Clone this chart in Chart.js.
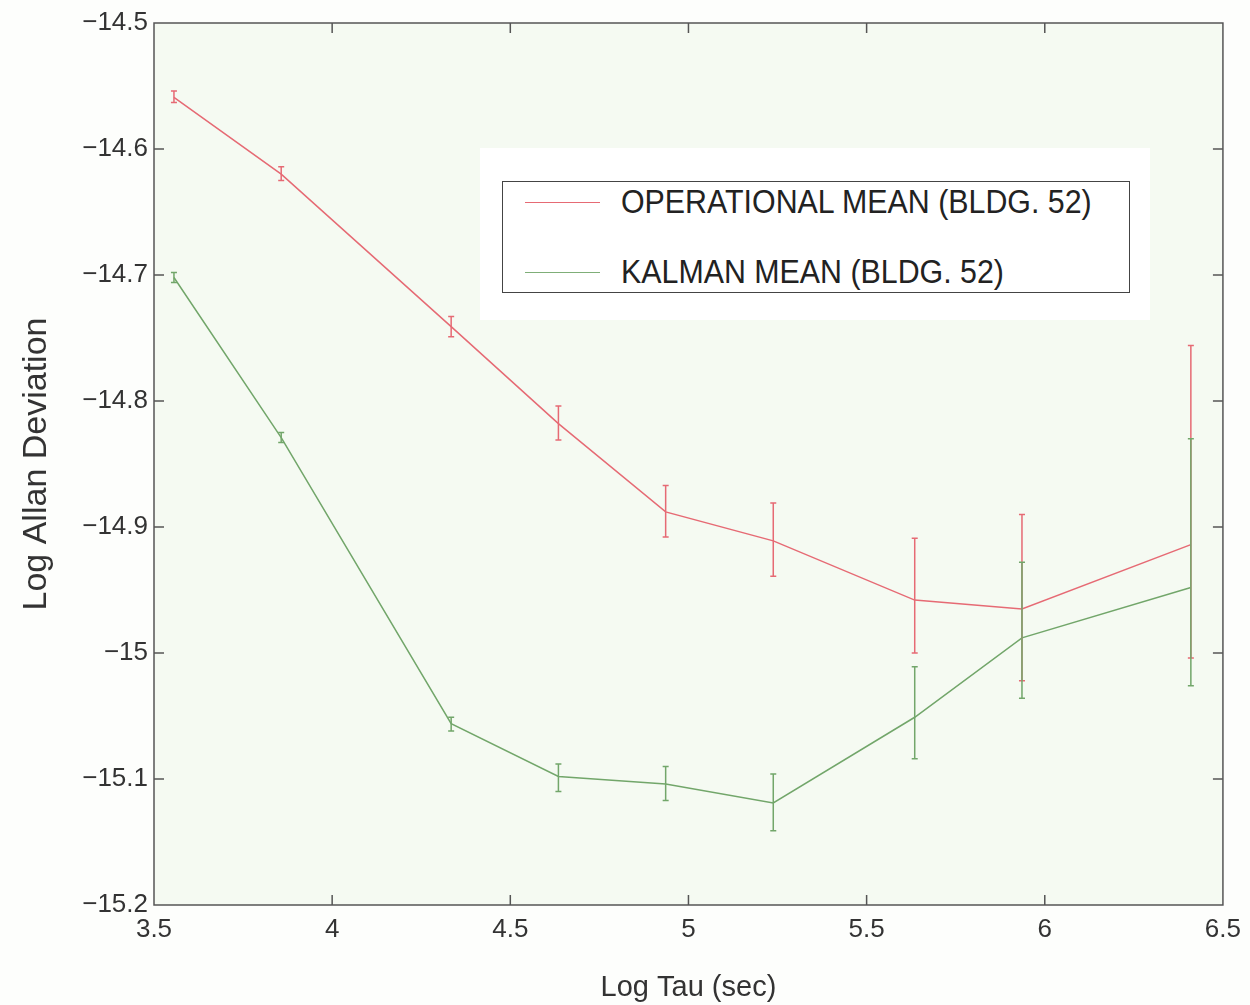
<!DOCTYPE html>
<html>
<head>
<meta charset="utf-8">
<script src="https://cdn.jsdelivr.net/npm/chart.js@4.4.1/dist/chart.umd.min.js"></script>
<style>
    body { margin: 0; background: #fdfefc; }
    #wrap { position: relative; width: 1250px; height: 1005px; }
    #legendBack {
        position: absolute; left: 480px; top: 148px; width: 670px; height: 172px;
        background: #ffffff;
    }
    #legendBox {
        position: absolute; left: 502px; top: 181px; width: 626px; height: 110px;
        border: 1.5px solid #444; background: #ffffff;
        font-family: "Liberation Sans", Arial, sans-serif; font-size: 33px; color: #222;
    }
    .row { position: absolute; left: 0; height: 38px; line-height: 38px; white-space: nowrap; }
    .row span.line { position: absolute; left: 22px; top: 19px; width: 75px; height: 0; border-top: 1.5px solid; }
    .row span.txt { position: absolute; left: 118px; top: 0; display: inline-block; transform: scaleX(0.92); transform-origin: left center; }
</style>
</head>
<body>
<div id="wrap">
    <canvas id="allanChart" width="1250" height="1005"></canvas>
    <div id="legendBack"></div>
    <div id="legendBox">
        <div class="row" style="top: 1px;"><span class="line" style="border-color:#e66a74;"></span><span class="txt">OPERATIONAL MEAN (BLDG. 52)</span></div>
        <div class="row" style="top: 71px;"><span class="line" style="border-color:#7fae78;"></span><span class="txt">KALMAN MEAN (BLDG. 52)</span></div>
    </div>
</div>
<script>
// log10 of averaging time (sec)
const logTau = [3.556, 3.857, 4.334, 4.635, 4.936, 5.238, 5.635, 5.936, 6.41];

// operational mean, log Allan deviation, error bar up / down lengths
const operationalMean = [-14.559, -14.620, -14.741, -14.818, -14.888, -14.911, -14.958, -14.965, -14.914];
const operationalUp = [0.005, 0.006, 0.008, 0.014, 0.021, 0.030, 0.049, 0.075, 0.158];
const operationalDown = [0.004, 0.005, 0.008, 0.013, 0.020, 0.028, 0.042, 0.057, 0.090];

// kalman mean
const kalmanMean = [-14.702, -14.829, -15.056, -15.098, -15.104, -15.119, -15.051, -14.988, -14.948];
const kalmanUp = [0.004, 0.004, 0.005, 0.010, 0.014, 0.023, 0.040, 0.060, 0.118];
const kalmanDown = [0.004, 0.004, 0.006, 0.012, 0.013, 0.022, 0.033, 0.048, 0.078];

const xTicks = [3.5, 4, 4.5, 5, 5.5, 6, 6.5];
const yTicks = [-14.5, -14.6, -14.7, -14.8, -14.9, -15, -15.1, -15.2];

const RED = '#e66a74';
const GREEN = '#72a66a';
const FONT = '"Liberation Sans", Arial, sans-serif';

function toPoints(xs, ys, ups, downs) {
    return xs.map((x, i) => ({ x: x, y: ys[i], up: ups[i], down: downs[i] }));
}

// Plot background
const plotBackground = {
    id: 'plotBackground',
    beforeDraw(chart) {
        const { ctx, chartArea: a } = chart;
        ctx.save();
        ctx.fillStyle = '#f5faf2';
        ctx.fillRect(a.left, a.top, a.right - a.left, a.bottom - a.top);
        ctx.restore();
    }
};

// Vertical error bars with small caps
const errorBars = {
    id: 'errorBars',
    afterDatasetsDraw(chart) {
        const ctx = chart.ctx;
        const xs = chart.scales.x, ys = chart.scales.y;
        chart.data.datasets.forEach(ds => {
            ctx.save();
            ctx.strokeStyle = ds.borderColor;
            ctx.lineWidth = 1.5;
            ds.data.forEach(p => {
                const px = xs.getPixelForValue(p.x);
                const top = ys.getPixelForValue(p.y + p.up);
                const bot = ys.getPixelForValue(p.y - p.down);
                ctx.beginPath();
                ctx.moveTo(px, top); ctx.lineTo(px, bot);
                ctx.moveTo(px - 3, top); ctx.lineTo(px + 3, top);
                ctx.moveTo(px - 3, bot); ctx.lineTo(px + 3, bot);
                ctx.stroke();
            });
            ctx.restore();
        });
    }
};

// Box frame with inward ticks on all four sides
const boxTicks = {
    id: 'boxTicks',
    afterDraw(chart) {
        const { ctx, chartArea: a } = chart;
        const xs = chart.scales.x, ys = chart.scales.y;
        const len = 10;
        ctx.save();
        ctx.strokeStyle = '#555';
        ctx.lineWidth = 1.5;
        ctx.strokeRect(a.left, a.top, a.right - a.left, a.bottom - a.top);
        ctx.beginPath();
        xTicks.slice(1, -1).forEach(v => {
            const px = xs.getPixelForValue(v);
            ctx.moveTo(px, a.bottom); ctx.lineTo(px, a.bottom - len);
            ctx.moveTo(px, a.top); ctx.lineTo(px, a.top + len);
        });
        yTicks.slice(1, -1).forEach(v => {
            const py = ys.getPixelForValue(v);
            ctx.moveTo(a.left, py); ctx.lineTo(a.left + len, py);
            ctx.moveTo(a.right, py); ctx.lineTo(a.right - len, py);
        });
        ctx.stroke();
        ctx.restore();
    }
};

const ctx = document.getElementById('allanChart').getContext('2d');
new Chart(ctx, {
    type: 'scatter',
    data: {
        datasets: [{
            label: 'OPERATIONAL MEAN (BLDG. 52)',
            data: toPoints(logTau, operationalMean, operationalUp, operationalDown),
            borderColor: RED,
            backgroundColor: RED,
            showLine: true,
            borderWidth: 1.5,
            pointRadius: 0,
            tension: 0
        }, {
            label: 'KALMAN MEAN (BLDG. 52)',
            data: toPoints(logTau, kalmanMean, kalmanUp, kalmanDown),
            borderColor: GREEN,
            backgroundColor: GREEN,
            showLine: true,
            borderWidth: 1.5,
            pointRadius: 0,
            tension: 0
        }]
    },
    options: {
        responsive: false,
        animation: false,
        layout: { padding: { top: 23, right: 23, left: 0, bottom: 0 } },
        plugins: {
            legend: { display: false },
            tooltip: { enabled: false }
        },
        scales: {
            x: {
                type: 'linear',
                min: 3.5,
                max: 6.5,
                afterBuildTicks: scale => { scale.ticks = xTicks.map(v => ({ value: v })); },
                afterFit: scale => { scale.height = 100; },
                ticks: {
                    color: '#333',
                    font: { family: FONT, size: 26 },
                    padding: 9,
                    maxRotation: 0,
                    callback: v => String(v)
                },
                grid: { display: false, drawTicks: false },
                border: { display: false },
                title: {
                    display: true,
                    text: 'Log Tau (sec)',
                    color: '#333',
                    font: { family: FONT, size: 29 },
                    padding: { top: 22, bottom: 0 }
                }
            },
            y: {
                type: 'linear',
                min: -15.2,
                max: -14.5,
                afterBuildTicks: scale => { scale.ticks = yTicks.map(v => ({ value: v })); },
                afterFit: scale => { scale.width = 154; },
                ticks: {
                    color: '#333',
                    font: { family: FONT, size: 26 },
                    padding: 6,
                    callback: v => String(Number(v.toFixed(1))).replace('-', '\u2212')
                },
                grid: { display: false, drawTicks: false },
                border: { display: false },
                title: {
                    display: true,
                    text: 'Log Allan Deviation',
                    color: '#333',
                    font: { family: FONT, size: 34 },
                    padding: { top: 16, bottom: 0 }
                }
            }
        }
    },
    plugins: [plotBackground, errorBars, boxTicks]
});
</script>
</body>
</html>
